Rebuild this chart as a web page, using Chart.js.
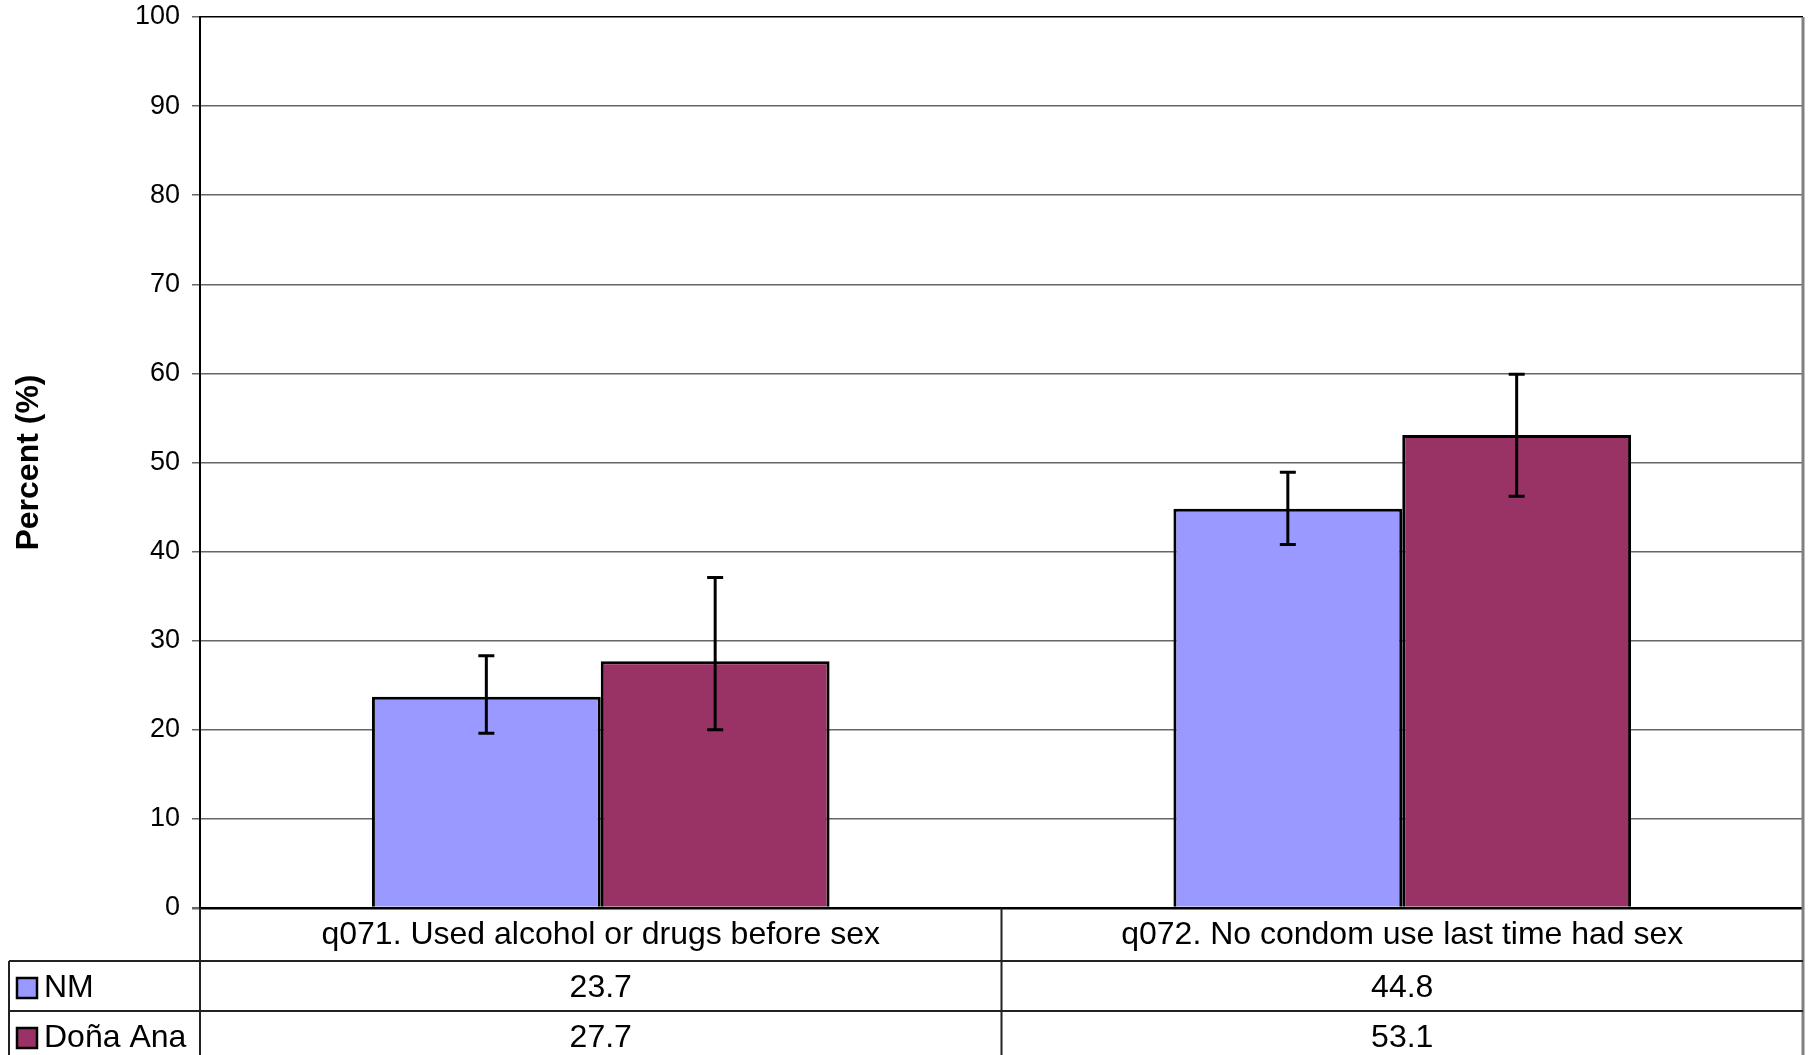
<!DOCTYPE html>
<html>
<head>
<meta charset="utf-8">
<script src="https://cdn.jsdelivr.net/npm/chart.js@4/dist/chart.umd.min.js"></script>
<style>
    html, body { margin: 0; padding: 0; background: #fff; }
    #wrap { width: 1811px; height: 1055px; position: relative; }
</style>
</head>
<body>
<div id="wrap"><canvas id="chart"></canvas></div>
<script>
const categories = ['q071. Used alcohol or drugs before sex', 'q072. No condom use last time had sex'];
const seriesNames = ['NM', 'Doña Ana'];
const nmValues = [23.7, 44.8];
const donaValues = [27.7, 53.1];
const nmLow = [19.6, 40.8];
const nmHigh = [28.3, 48.9];
const donaLow = [20.0, 46.2];
const donaHigh = [37.1, 59.9];
const yTicks = [0, 10, 20, 30, 40, 50, 60, 70, 80, 90, 100];

const FONT = '"Liberation Sans", Arial, sans-serif';
const colors = ['#9999FF', '#993366'];

// error bars drawn from the low/high arrays through the y scale
const errorBars = {
    id: 'errorBars',
    afterDatasetsDraw(chart) {
        const ctx = chart.ctx;
        const y = chart.scales.y;
        const ranges = [[nmLow, nmHigh], [donaLow, donaHigh]];
        ctx.save();
        ctx.strokeStyle = '#000';
        ctx.lineWidth = 3;
        chart.data.datasets.forEach((ds, di) => {
            const meta = chart.getDatasetMeta(di);
            meta.data.forEach((bar, i) => {
                const top = y.getPixelForValue(ranges[di][1][i]);
                const bot = y.getPixelForValue(ranges[di][0][i]);
                ctx.beginPath();
                ctx.moveTo(bar.x, top); ctx.lineTo(bar.x, bot);
                ctx.moveTo(bar.x - 8, top); ctx.lineTo(bar.x + 8, top);
                ctx.moveTo(bar.x - 8, bot); ctx.lineTo(bar.x + 8, bot);
                ctx.stroke();
            });
        });
        ctx.restore();
    }
};

// data table under the plot, like the Excel one
const dataTable = {
    id: 'dataTable',
    afterDraw(chart) {
        const ctx = chart.ctx;
        const area = chart.chartArea;
        const x = chart.scales.x;
        const half = (area.right - area.left) / categories.length / 2;
        const rowTop = area.bottom;
        const rowH = [53, 50, 50];
        const r1 = rowTop + rowH[0];
        const r2 = r1 + rowH[1];
        const bottom = chart.height;
        const tableLeft = 9;

        ctx.save();
        // plot right border
        ctx.strokeStyle = '#808080';
        ctx.lineWidth = 3;
        ctx.beginPath();
        ctx.moveTo(area.right, area.top); ctx.lineTo(area.right, bottom);
        ctx.stroke();

        ctx.strokeStyle = '#222';
        ctx.lineWidth = 2;
        ctx.beginPath();
        ctx.moveTo(area.left, rowTop); ctx.lineTo(area.left, bottom);
        categories.forEach((c, i) => {
            const cx = x.getPixelForValue(i);
            if (i > 0) { ctx.moveTo(cx - half, rowTop); ctx.lineTo(cx - half, bottom); }
        });
        ctx.moveTo(tableLeft, r1); ctx.lineTo(area.right, r1);
        ctx.moveTo(tableLeft, r2); ctx.lineTo(area.right, r2);
        ctx.moveTo(tableLeft, r1); ctx.lineTo(tableLeft, bottom);
        ctx.stroke();

        ctx.fillStyle = '#000';
        ctx.font = '32px ' + FONT;
        ctx.textBaseline = 'middle';
        ctx.textAlign = 'center';
        const rows = [nmValues, donaValues];
        const centers = [rowTop + rowH[0] / 2, r1 + rowH[1] / 2, r2 + rowH[2] / 2];
        categories.forEach((c, i) => {
            const cx = x.getPixelForValue(i);
            ctx.fillText(c, cx, centers[0] + 1);
            rows.forEach((vals, ri) => {
                ctx.fillText(vals[i].toFixed(1), cx, centers[ri + 1] + 2);
            });
        });

        ctx.textAlign = 'left';
        seriesNames.forEach((name, ri) => {
            const cy = centers[ri + 1] + 2;
            ctx.fillStyle = colors[ri];
            ctx.fillRect(17, cy - 10, 20, 20);
            ctx.strokeStyle = '#000';
            ctx.lineWidth = 2.5;
            ctx.strokeRect(17, cy - 10, 20, 20);
            ctx.fillStyle = '#000';
            ctx.fillText(name, 44, cy);
        });
        ctx.restore();
    }
};

const canvas = document.getElementById('chart');
canvas.width = 1811;
canvas.height = 1055;

new Chart(canvas, {
    type: 'bar',
    data: {
        labels: categories,
        datasets: [
            { label: seriesNames[0], data: nmValues, backgroundColor: colors[0], borderColor: '#000', borderWidth: 3 },
            { label: seriesNames[1], data: donaValues, backgroundColor: colors[1], borderColor: '#000', borderWidth: 3 }
        ]
    },
    options: {
        responsive: false,
        animation: false,
        devicePixelRatio: 1,
        layout: { padding: { top: 17, right: 8, bottom: 147, left: 0 } },
        datasets: { bar: { categoryPercentage: 0.571, barPercentage: 1.0 } },
        plugins: { legend: { display: false }, tooltip: { enabled: false } },
        scales: {
            x: { display: false, offset: true },
            y: {
                min: 0, max: 100,
                afterFit: (scale) => {
                    scale.width = 200;
                    scale.paddingTop = 0;
                    scale.paddingBottom = 0;
                },
                afterBuildTicks: (scale) => { scale.ticks = yTicks.map(v => ({ value: v })); },
                border: { color: '#000', width: 2 },
                grid: {
                    color: (c) => (c.tick && (c.tick.value === 0 || c.tick.value === 100)) ? '#000' : '#666',
                    lineWidth: (c) => (c.tick && c.tick.value === 0) ? 2.5 : 1.5,
                    tickColor: '#666',
                    tickLength: 8
                },
                ticks: { color: '#000', padding: 12, font: { family: FONT, size: 27 } },
                title: {
                    display: true,
                    text: 'Percent (%)',
                    color: '#000',
                    padding: { top: 10, bottom: 0 },
                    font: { family: FONT, size: 32, weight: 'bold' }
                }
            }
        }
    },
    plugins: [errorBars, dataTable]
});
</script>
</body>
</html>
